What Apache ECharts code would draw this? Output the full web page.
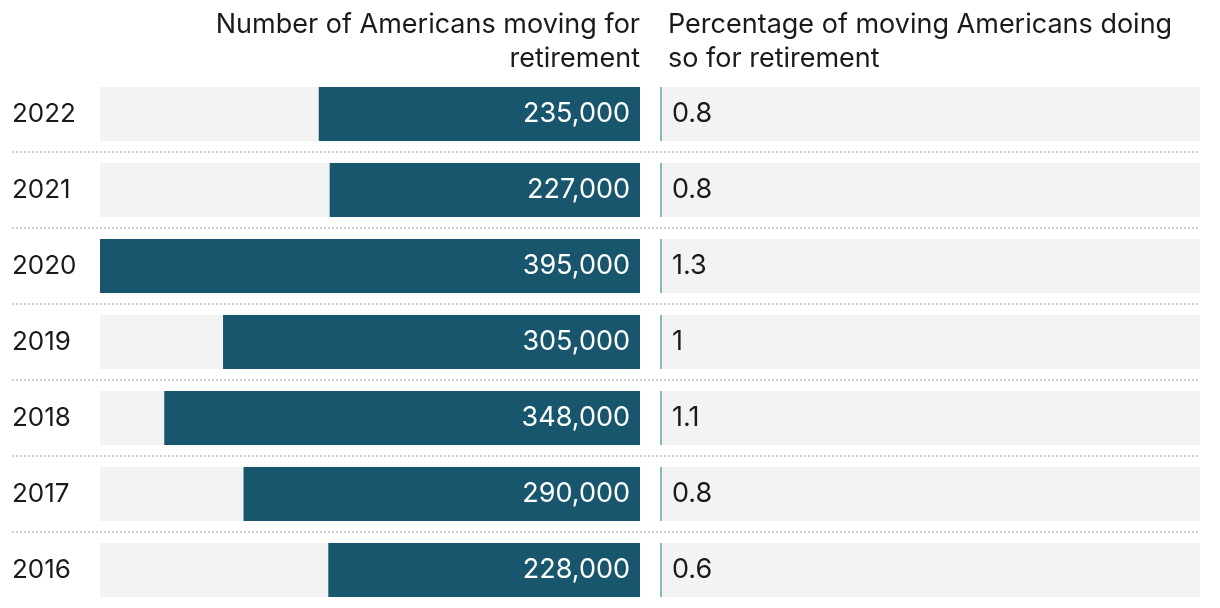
<!DOCTYPE html>
<html>
<head>
<meta charset="utf-8">
<script src="https://cdn.jsdelivr.net/npm/echarts@6/dist/echarts.min.js"></script>
<style>
html,body{margin:0;padding:0;background:#fff;}
#chart{width:1220px;height:608px;}
</style>
</head>
<body>
<div id="chart"></div>
<script>
const years = ['2022', '2021', '2020', '2019', '2018', '2017', '2016'];
const movers = [235000, 227000, 395000, 305000, 348000, 290000, 228000];
const pctRetire = [0.8, 0.8, 1.3, 1, 1.1, 0.8, 0.6];
const leftTitleLines = ['Number of Americans moving for', 'retirement'];
const rightTitle = 'Percentage of moving Americans doing\nso for retirement';

const FONT = 'Inter';
const FS = 27;
const chart = echarts.init(document.getElementById('chart'), null, {renderer: 'canvas'});
const fmt = v => v.toLocaleString('en-US');
const titleStyle = {fontFamily: FONT, fontSize: FS, fontWeight: 'normal', color: '#1a1a1a', lineHeight: 34};

chart.setOption({
  animation: false,
  backgroundColor: '#ffffff',
  textStyle: {fontFamily: FONT},
  title: [
    {text: leftTitleLines[0], right: 575, top: 3, textStyle: titleStyle},
    {text: leftTitleLines[1], right: 575, top: 37, textStyle: titleStyle},
    {text: rightTitle, left: 663, top: 3, textStyle: titleStyle}
  ],
  grid: [
    {left: 100, width: 540, top: 76, height: 532},
    {left: 662, width: 538, top: 76, height: 532},
    {left: 12, width: 1188, top: 76, height: 532}
  ],
  xAxis: [
    {gridIndex: 0, type: 'value', min: 0, max: 395000, inverse: true, show: false},
    {gridIndex: 1, type: 'value', min: 0, max: 100, show: false},
    {gridIndex: 2, type: 'value', min: 0, max: 1, show: false}
  ],
  yAxis: [
    {gridIndex: 0, type: 'category', data: years, inverse: true,
     axisLine: {show: false}, axisTick: {show: false}, splitLine: {show: false},
     axisLabel: {align: 'left', margin: 88, fontFamily: FONT, fontSize: 26, color: '#1a1a1a'}},
    {gridIndex: 1, type: 'category', data: years, inverse: true, show: false},
    {gridIndex: 2, type: 'category', data: years, inverse: true,
     axisLine: {show: false}, axisTick: {show: false}, axisLabel: {show: false},
     splitLine: {show: true, showMinLine: false, showMaxLine: false,
       lineStyle: {color: '#cfcfcf', width: 2, type: [2, 2]}}}
  ],
  series: [
    {type: 'bar', name: 'Movers', xAxisIndex: 0, yAxisIndex: 0, data: movers,
     barWidth: 54, itemStyle: {color: '#18566d'},
     showBackground: true, backgroundStyle: {color: '#f3f3f3'},
     label: {show: true, position: 'insideRight', distance: 10, color: '#ffffff',
       fontFamily: FONT, fontSize: FS, formatter: p => fmt(p.value)}},
    {type: 'bar', name: 'Share', xAxisIndex: 1, yAxisIndex: 1, data: pctRetire,
     barWidth: 54, itemStyle: {color: 'rgba(0,0,0,0)'},
     showBackground: true, backgroundStyle: {color: '#f3f3f3'},
     label: {show: true, position: 'insideLeft', distance: 10, color: '#1a1a1a',
       fontFamily: FONT, fontSize: FS, formatter: p => String(p.value)}},
    {type: 'scatter', name: 'ShareMark', xAxisIndex: 1, yAxisIndex: 1,
     data: pctRetire.map((v, i) => [0, i]),
     symbol: 'rect', symbolSize: [2, 54], symbolOffset: [-1, 0],
     itemStyle: {color: '#86b9b9', opacity: 1}, silent: true}
  ]
});
</script>
</body>
</html>
